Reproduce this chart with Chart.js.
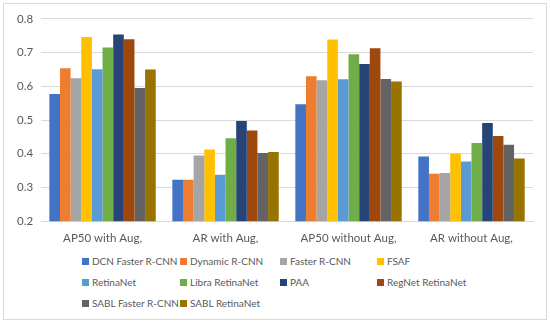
<!DOCTYPE html>
<html>
<head>
<meta charset="utf-8">
<script src="https://cdn.jsdelivr.net/npm/chart.js@4/dist/chart.umd.min.js"></script>
<style>
  body { margin: 0; background: #fff; font-family: Lato, sans-serif; }
  .frame { position: absolute; left: 3px; top: 3px; width: 542px; height: 315px; border: 1px solid #d9d9d9; }
  .wrap { position: absolute; left: 0; top: 0; width: 542px; height: 243px; }
  .legend { position: absolute; left: 78px; top: 247px; display: grid; grid-template-columns: 98px 100px 97px 140px; }
  .legend div { height: 21px; line-height: 21px; font-size: 10px; color: #595959; white-space: nowrap; }
  .legend span { display: inline-block; width: 7px; height: 7px; margin-right: 3px; }
</style>
</head>
<body>
<div class="frame">
  <div class="wrap"><canvas class="bar-chart"></canvas></div>
  <div class="legend" id="legend"></div>
</div>
<script>
const categories = ['AP50 with Aug,', 'AR with Aug,', 'AP50 without Aug,', 'AR without Aug,'];

const dcn_faster = [0.577, 0.323, 0.547, 0.392];
const dynamic_rcnn = [0.654, 0.323, 0.630, 0.341];
const faster_rcnn = [0.624, 0.395, 0.618, 0.343];
const fsaf = [0.746, 0.413, 0.739, 0.400];
const retinanet = [0.651, 0.338, 0.621, 0.377];
const libra_retinanet = [0.715, 0.446, 0.695, 0.432];
const paa = [0.754, 0.497, 0.666, 0.491];
const regnet_retinanet = [0.740, 0.469, 0.713, 0.453];
const sabl_faster = [0.595, 0.402, 0.622, 0.427];
const sabl_retinanet = [0.650, 0.405, 0.614, 0.386];

const yTicks = [0.2, 0.3, 0.4, 0.5, 0.6, 0.7, 0.8];

const series = [
    { label: 'DCN Faster R-CNN', data: dcn_faster, color: '#4472C4' },
    { label: 'Dynamic R-CNN', data: dynamic_rcnn, color: '#ED7D31' },
    { label: 'Faster R-CNN', data: faster_rcnn, color: '#A5A5A5' },
    { label: 'FSAF', data: fsaf, color: '#FFC000' },
    { label: 'RetinaNet', data: retinanet, color: '#5B9BD5' },
    { label: 'Libra RetinaNet', data: libra_retinanet, color: '#70AD47' },
    { label: 'PAA', data: paa, color: '#264478' },
    { label: 'RegNet RetinaNet', data: regnet_retinanet, color: '#9E480E' },
    { label: 'SABL Faster R-CNN', data: sabl_faster, color: '#636363' },
    { label: 'SABL RetinaNet', data: sabl_retinanet, color: '#997300' }
];

const ctx = document.querySelector('.bar-chart').getContext('2d');

const bar_chart = new Chart(ctx, {
    type: 'bar',
    data: {
        labels: categories,
        datasets: series.map(s => ({
            label: s.label,
            data: s.data,
            backgroundColor: s.color,
            borderWidth: 0
        }))
    },
    options: {
        responsive: true,
        maintainAspectRatio: false,
        animation: false,
        datasets: {
            bar: { categoryPercentage: 0.865, barPercentage: 1 }
        },
        layout: { padding: { top: 7, right: 13, left: 5, bottom: 0 } },
        plugins: {
            legend: { display: false },
            tooltip: { enabled: false }
        },
        scales: {
            x: {
                grid: { display: false },
                border: { color: '#d9d9d9' },
                ticks: {
                    color: '#595959',
                    font: { family: 'Lato', size: 11.5 },
                    padding: 2,
                    maxRotation: 0
                }
            },
            y: {
                min: 0.2,
                max: 0.8,
                afterBuildTicks: axis => { axis.ticks = yTicks.map(v => ({ value: v })); },
                grid: { color: '#d9d9d9', drawTicks: false },
                border: { display: false },
                ticks: {
                    color: '#595959',
                    font: { family: 'Lato', size: 11.5 },
                    padding: 8,
                    callback: v => v.toFixed(1)
                }
            }
        }
    }
});

const legend = document.getElementById('legend');
series.forEach(s => {
    const item = document.createElement('div');
    item.innerHTML = '<span style="background:' + s.color + '"></span>' + s.label;
    legend.appendChild(item);
});
</script>
</body>
</html>
